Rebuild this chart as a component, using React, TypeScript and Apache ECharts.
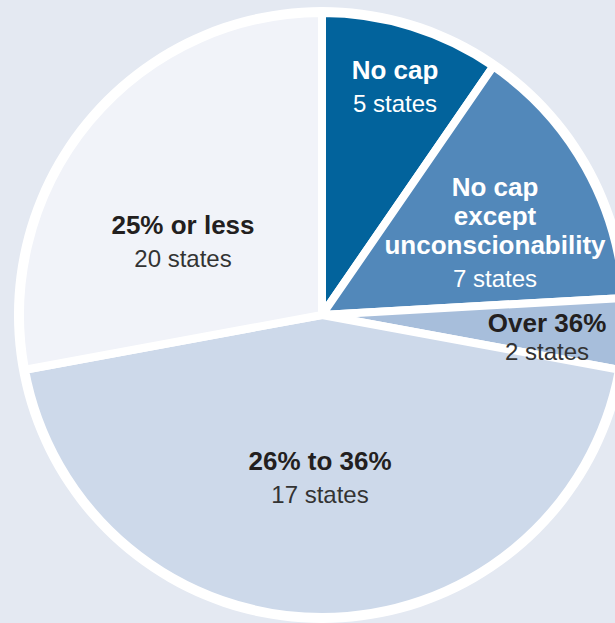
import React, { useEffect, useRef } from "react";
import * as echarts from "echarts";

const categories = ["No cap", "No cap\nexcept\nunconscionability", "Over 36%", "26% to 36%", "25% or less"];
const states = [5, 7, 2, 17, 20];
// slice shares as drawn in the picture (percent of the circle)
const shares = [9.6, 14.5, 3.8, 44.2, 27.9];
const colors = ["#02639c", "#5288ba", "#a7bedb", "#cdd9ea", "#f1f3f9"];
const nameColors = ["#ffffff", "#ffffff", "#231f20", "#231f20", "#231f20"];
const countColors = ["#ffffff", "#ffffff", "#333333", "#333333", "#333333"];
const labelPos: [number, number][] = [
  [395, 89],
  [495, 235],
  [547, 337],
  [320, 480],
  [183, 244],
];

export default function App() {
  const ref = useRef<HTMLDivElement>(null);
  useEffect(() => {
    if (!ref.current) return;
    const chart = echarts.init(ref.current, undefined, { renderer: "svg" });
    const cx = 322;
    const cy = 315;
    const font = "Liberation Sans, Arial, sans-serif";
    chart.setOption({
      animation: false,
      backgroundColor: "#e4e9f2",
      series: [
        {
          type: "pie",
          silent: true,
          center: [cx, cy],
          radius: [0, 308],
          label: { show: false },
          labelLine: { show: false },
          itemStyle: { color: "#ffffff" },
          data: [{ value: 1, name: "bg" }],
          z: 1,
        },
        {
          type: "pie",
          center: [cx, cy],
          radius: [0, 302],
          startAngle: 90,
          clockwise: true,
          avoidLabelOverlap: false,
          z: 2,
          itemStyle: { borderColor: "#ffffff", borderWidth: 8 },
          label: {
            show: true,
            position: "inside",
            align: "center",
            verticalAlign: "middle",
            fontFamily: font,
            formatter: (p: any) => {
              const i = p.dataIndex;
              const lines = categories[i].split("\n").map((l) => `{b${i}|${l}}`).join("\n");
              return `${lines}\n{n${i}|${states[i]} states}`;
            },
            rich: Object.fromEntries(
              categories.flatMap((_, i) => [
                [
                  `b${i}`,
                  {
                    fontFamily: font,
                    fontWeight: "bold",
                    fontSize: 26,
                    lineHeight: 29,
                    color: nameColors[i],
                    align: "center",
                  },
                ],
                [
                  `n${i}`,
                  {
                    fontFamily: font,
                    fontSize: 24,
                    lineHeight: i === 2 ? 29 : 39,
                    color: countColors[i],
                    align: "center",
                  },
                ],
              ])
            ),
          },
          labelLine: { show: false },
          labelLayout: (params: any) => ({
            x: labelPos[params.dataIndex][0],
            y: labelPos[params.dataIndex][1],
            align: "center",
            verticalAlign: "middle",
          }),
          data: shares.map((v, i) => ({
            value: v,
            name: categories[i],
            itemStyle: { color: colors[i] },
          })),
        },
      ],
    });
    return () => chart.dispose();
  }, []);
  return (
    <div
      ref={ref}
      style={{ position: "fixed", left: 0, top: 0, width: 615, height: 623 }}
    />
  );
}
